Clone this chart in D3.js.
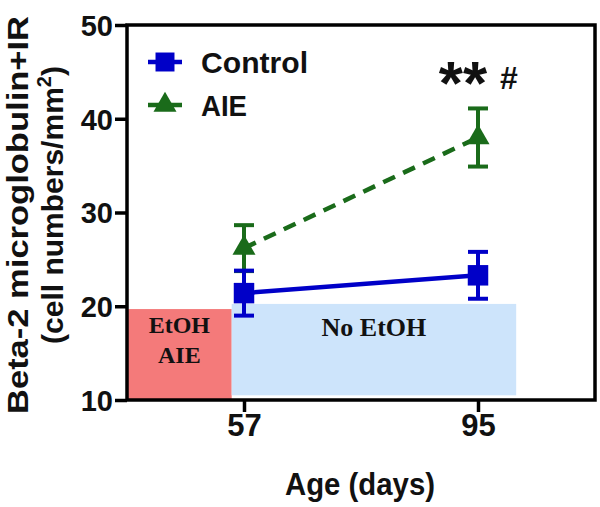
<!DOCTYPE html>
<html><head><meta charset="utf-8">
<script src="https://cdn.jsdelivr.net/npm/d3@7"></script>
<style>body{margin:0;background:#fff}svg{display:block}</style>
</head><body>
<svg id="c" width="600" height="507"></svg>
<script>
// ---- data ----
const ages = [57, 95];
const controlMean = [21.4, 23.3];
const controlErr = [2.4, 2.5];
const aieMean = [26.2, 38.0];
const aieErr = [2.45, 3.1];
const yTicks = [10, 20, 30, 40, 50];
const xTicks = [57, 95];
const phaseLabels = [["EtOH", "AIE"], ["No EtOH"]];
const phaseStart = [38, 55];
const phaseEnd = [55, 101.2];
const phaseTop = [19.7, 20.25];
const phaseBottom = [10, 10.5];
const seriesNames = ["Control", "AIE"];
const sigLabel = "**";
const sigLabel2 = "#";

const svg = d3.select("#c");
const x = d3.scaleLinear().domain([38, 114]).range([127, 595]);
const y = d3.scaleLinear().domain([10, 50]).range([400, 25]);

const blue = "#0000c8", green = "#1a6b1a";
const phaseFill = ["#f47a7a", "#cde4fb"];

// phase rectangles
phaseStart.forEach((s, i) => {
  svg.append("rect").attr("x", x(s)).attr("y", y(phaseTop[i]))
    .attr("width", x(phaseEnd[i]) - x(s)).attr("height", y(phaseBottom[i]) - y(phaseTop[i]))
    .attr("fill", phaseFill[i]);
  const cx = (x(s) + x(phaseEnd[i])) / 2;
  const lines = phaseLabels[i];
  const fs = i === 0 ? 24 : 26;
  const base = i === 0 ? 333 : 336;
  lines.forEach((t, j) => {
    svg.append("text").attr("x", cx).attr("y", base + j * 30)
      .attr("text-anchor", "middle").attr("font-family", "Liberation Serif")
      .attr("font-weight", "bold").attr("font-size", fs).attr("fill", "#111").text(t);
  });
});

// frame
svg.append("rect").attr("x", x(38)).attr("y", y(50)).attr("width", x(114) - x(38))
  .attr("height", y(10) - y(50)).attr("fill", "none").attr("stroke", "#000").attr("stroke-width", 3.5);

// y axis
const yAxis = d3.axisLeft(y).tickValues(yTicks).tickSize(12).tickFormat(d3.format("d"));
const ga = svg.append("g").attr("transform", `translate(${x(38)},0)`).call(yAxis);
ga.select(".domain").remove();
ga.selectAll("line").attr("stroke", "#000").attr("stroke-width", 3.5);
ga.selectAll("text").attr("font-family", "Liberation Sans").attr("font-weight", "bold")
  .attr("font-size", 29).attr("fill", "#111").attr("x", -14).attr("dy", "0.36em");

// x axis
const xAxis = d3.axisBottom(x).tickValues(xTicks).tickSize(12).tickFormat(d3.format("d"));
const gx = svg.append("g").attr("transform", `translate(0,${y(10)})`).call(xAxis);
gx.select(".domain").remove();
gx.selectAll("line").attr("stroke", "#000").attr("stroke-width", 3.5);
gx.selectAll("text").attr("font-family", "Liberation Sans").attr("font-weight", "bold")
  .attr("font-size", 31).attr("fill", "#111").attr("y", 14).attr("dy", "0.71em");

// axis titles
svg.append("text").attr("x", 360).attr("y", 495).attr("text-anchor", "middle")
  .attr("font-family", "Liberation Sans").attr("font-weight", "bold").attr("font-size", 31)
  .attr("textLength", 150).attr("lengthAdjust", "spacingAndGlyphs").attr("fill", "#111").text("Age (days)");
svg.append("text").attr("transform", "translate(28,215) rotate(-90)").attr("text-anchor", "middle")
  .attr("font-family", "Liberation Sans").attr("font-weight", "bold").attr("font-size", 30)
  .attr("textLength", 398).attr("lengthAdjust", "spacingAndGlyphs").attr("fill", "#111")
  .text("Beta-2 microglobulin+IR");
const t2 = svg.append("text").attr("transform", "translate(63,205) rotate(-90)").attr("text-anchor", "middle")
  .attr("font-family", "Liberation Sans").attr("font-weight", "bold").attr("font-size", 30).attr("fill", "#111");
t2.append("tspan").text("(cell numbers/mm");
t2.append("tspan").attr("font-size", 20).attr("dy", -12).text("2");
t2.append("tspan").attr("dy", 12).text(")");

// series
const series = [
  {name: seriesNames[0], mean: controlMean, err: controlErr, color: blue, dash: null, sym: d3.symbolSquare, size: 420},
  {name: seriesNames[1], mean: aieMean, err: aieErr, color: green, dash: "13,9", sym: d3.symbolTriangle, size: 230}
];
[series[1], series[0]].forEach(s => {
  const pts = ages.map((a, i) => [a, s.mean[i], s.err[i]]);
  svg.append("path").datum(pts)
    .attr("d", d3.line().x(d => x(d[0])).y(d => y(d[1])))
    .attr("fill", "none").attr("stroke", s.color).attr("stroke-width", 4.5)
    .attr("stroke-dasharray", s.dash);
  pts.forEach(d => {
    const g = svg.append("g").attr("stroke", s.color).attr("stroke-width", 4);
    g.append("line").attr("x1", x(d[0])).attr("x2", x(d[0])).attr("y1", y(d[1] - d[2])).attr("y2", y(d[1] + d[2]));
    [d[1] - d[2], d[1] + d[2]].forEach(v => g.append("line")
      .attr("x1", x(d[0]) - 10).attr("x2", x(d[0]) + 10).attr("y1", y(v)).attr("y2", y(v)));
    svg.append("path").attr("d", d3.symbol().type(s.sym).size(s.size)())
      .attr("transform", `translate(${x(d[0])},${y(d[1])})`).attr("fill", s.color);
  });
});

// legend
series.forEach((s, i) => {
  const ly = 62 + i * 43;
  svg.append("line").attr("x1", 148).attr("x2", 182).attr("y1", ly).attr("y2", ly)
    .attr("stroke", s.color).attr("stroke-width", 4.5);
  svg.append("path").attr("d", d3.symbol().type(s.sym).size(i === 0 ? 360 : 230)())
    .attr("transform", `translate(165,${ly})`).attr("fill", s.color);
  svg.append("text").attr("x", 201).attr("y", ly + 11).attr("font-family", "Liberation Sans")
    .attr("font-weight", "bold").attr("font-size", 30).attr("fill", "#111")
    .attr("textLength", i === 0 ? 107 : 46).attr("lengthAdjust", "spacingAndGlyphs").text(s.name);
});

// significance markers
svg.append("text").attr("x", 463).attr("y", 104).attr("text-anchor", "middle")
  .attr("font-family", "Liberation Sans").attr("font-weight", "bold").attr("font-size", 62)
  .attr("fill", "#111").text(sigLabel);
svg.append("text").attr("x", 509).attr("y", 89).attr("text-anchor", "middle")
  .attr("font-family", "Liberation Sans").attr("font-weight", "bold").attr("font-size", 32)
  .attr("fill", "#111").text(sigLabel2);
</script>
</body></html>
